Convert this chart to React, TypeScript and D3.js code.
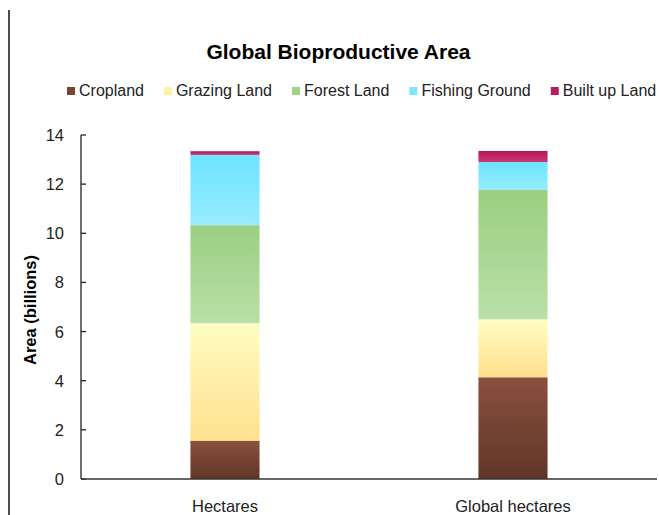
import React from "react";
import * as d3 from "d3";

// Land categories (stack order, bottom to top)
const seriesNames = ["Cropland", "Grazing Land", "Forest Land", "Fishing Ground", "Built up Land"];
const categories = ["Hectares", "Global hectares"];

// Area in billions, one value per category
const cropland = [1.56, 4.14];
const grazingLand = [4.78, 2.36];
const forestLand = [3.99, 5.26];
const fishingGround = [2.86, 1.14];
const builtUpLand = [0.15, 0.45];

const yTicks = [0, 2, 4, 6, 8, 10, 12, 14];

// gradient stops: [top, bottom], plus a flat legend swatch
const gradTop = ["#8A503E", "#FFFDC2", "#9BCF81", "#6DE4FF", "#B4145A"];
const gradBottom = ["#603628", "#FFE08F", "#B9E0A8", "#98ECFF", "#CC3A74"];
const swatch = ["#7B4535", "#FFF0A8", "#A0D28A", "#7FE6FF", "#B81C5C"];

const W = 659;
const H = 515;
const FONT = "'Liberation Sans', Arial, sans-serif";

const seriesValues = [cropland, grazingLand, forestLand, fishingGround, builtUpLand];

const rows = categories.map((c, i) => {
  const r: Record<string, any> = { category: c };
  seriesNames.forEach((s, j) => (r[s] = seriesValues[j][i]));
  return r;
});

function measure(text: string, font: string): number {
  const cv = document.createElement("canvas");
  const ctx = cv.getContext("2d")!;
  ctx.font = font;
  return ctx.measureText(text).width;
}

export default function App() {
  const plot = { left: 81, right: 657, top: 135, bottom: 479 };

  const x = d3
    .scaleBand<string>()
    .domain(categories)
    .range([plot.left, plot.right])
    .paddingInner(0.76)
    .paddingOuter(0.38);

  const y = d3.scaleLinear().domain([0, 14]).range([plot.bottom, plot.top]);

  const stacked = d3.stack<Record<string, any>>().keys(seriesNames)(rows);

  // legend layout: swatch, text, gap
  const legendSize = 16;
  const legendFont = `${legendSize}px ${FONT}`;
  let cursor = 67;
  const legendItems = seriesNames.map((name, i) => {
    const item = { name, x: cursor, color: swatch[i] };
    cursor += 12 + measure(name, legendFont) + 20;
    return item;
  });

  return (
    <svg
      width={W}
      height={H}
      style={{ position: "absolute", left: 0, top: 0, background: "#fff" }}
      fontFamily={FONT}
    >
      <defs>
        {seriesNames.map((s, i) => (
          <linearGradient key={s} id={`grad-${i}`} x1="0" y1="0" x2="0" y2="1">
            <stop offset="0%" stopColor={gradTop[i]} />
            <stop offset="100%" stopColor={gradBottom[i]} />
          </linearGradient>
        ))}
      </defs>

      {/* left frame edge */}
      <line x1={9} x2={9} y1={10} y2={H} stroke="#111" strokeWidth={1.5} />

      <text x={338.5} y={59} textAnchor="middle" fontSize={21} fontWeight="bold" fill="#000">
        Global Bioproductive Area
      </text>

      {/* legend */}
      {legendItems.map((it) => (
        <g key={it.name}>
          <rect x={it.x} y={87} width={8} height={8} fill={it.color} />
          <text x={it.x + 12} y={96} fontSize={legendSize} fill="#222">
            {it.name}
          </text>
        </g>
      ))}

      {/* bars */}
      {stacked.map((layer, i) =>
        layer.map((d) => (
          <rect
            key={`${i}-${d.data.category}`}
            x={x(d.data.category)}
            width={x.bandwidth()}
            y={y(d[1])}
            height={y(d[0]) - y(d[1])}
            fill={`url(#grad-${i})`}
          />
        ))
      )}

      {/* y axis */}
      <line x1={plot.left} x2={plot.left} y1={y(14)} y2={plot.bottom} stroke="#222" strokeWidth={1.3} />
      {yTicks.map((t) => (
        <g key={t}>
          <line x1={plot.left} x2={plot.left + 5} y1={y(t)} y2={y(t)} stroke="#222" strokeWidth={1.3} />
          <text x={64} y={y(t)} dy="0.36em" textAnchor="end" fontSize={16.5} fill="#222">
            {t}
          </text>
        </g>
      ))}

      {/* x axis */}
      <line x1={plot.left} x2={plot.right} y1={plot.bottom} y2={plot.bottom} stroke="#333" strokeWidth={1.3} />
      {categories.map((c) => (
        <text
          key={c}
          x={(x(c) ?? 0) + x.bandwidth() / 2}
          y={512}
          textAnchor="middle"
          fontSize={16.5}
          fill="#222"
        >
          {c}
        </text>
      ))}

      <text
        transform="translate(36,310) rotate(-90)"
        textAnchor="middle"
        fontSize={16.5}
        fontWeight="bold"
        fill="#000"
      >
        Area (billions)
      </text>
    </svg>
  );
}
